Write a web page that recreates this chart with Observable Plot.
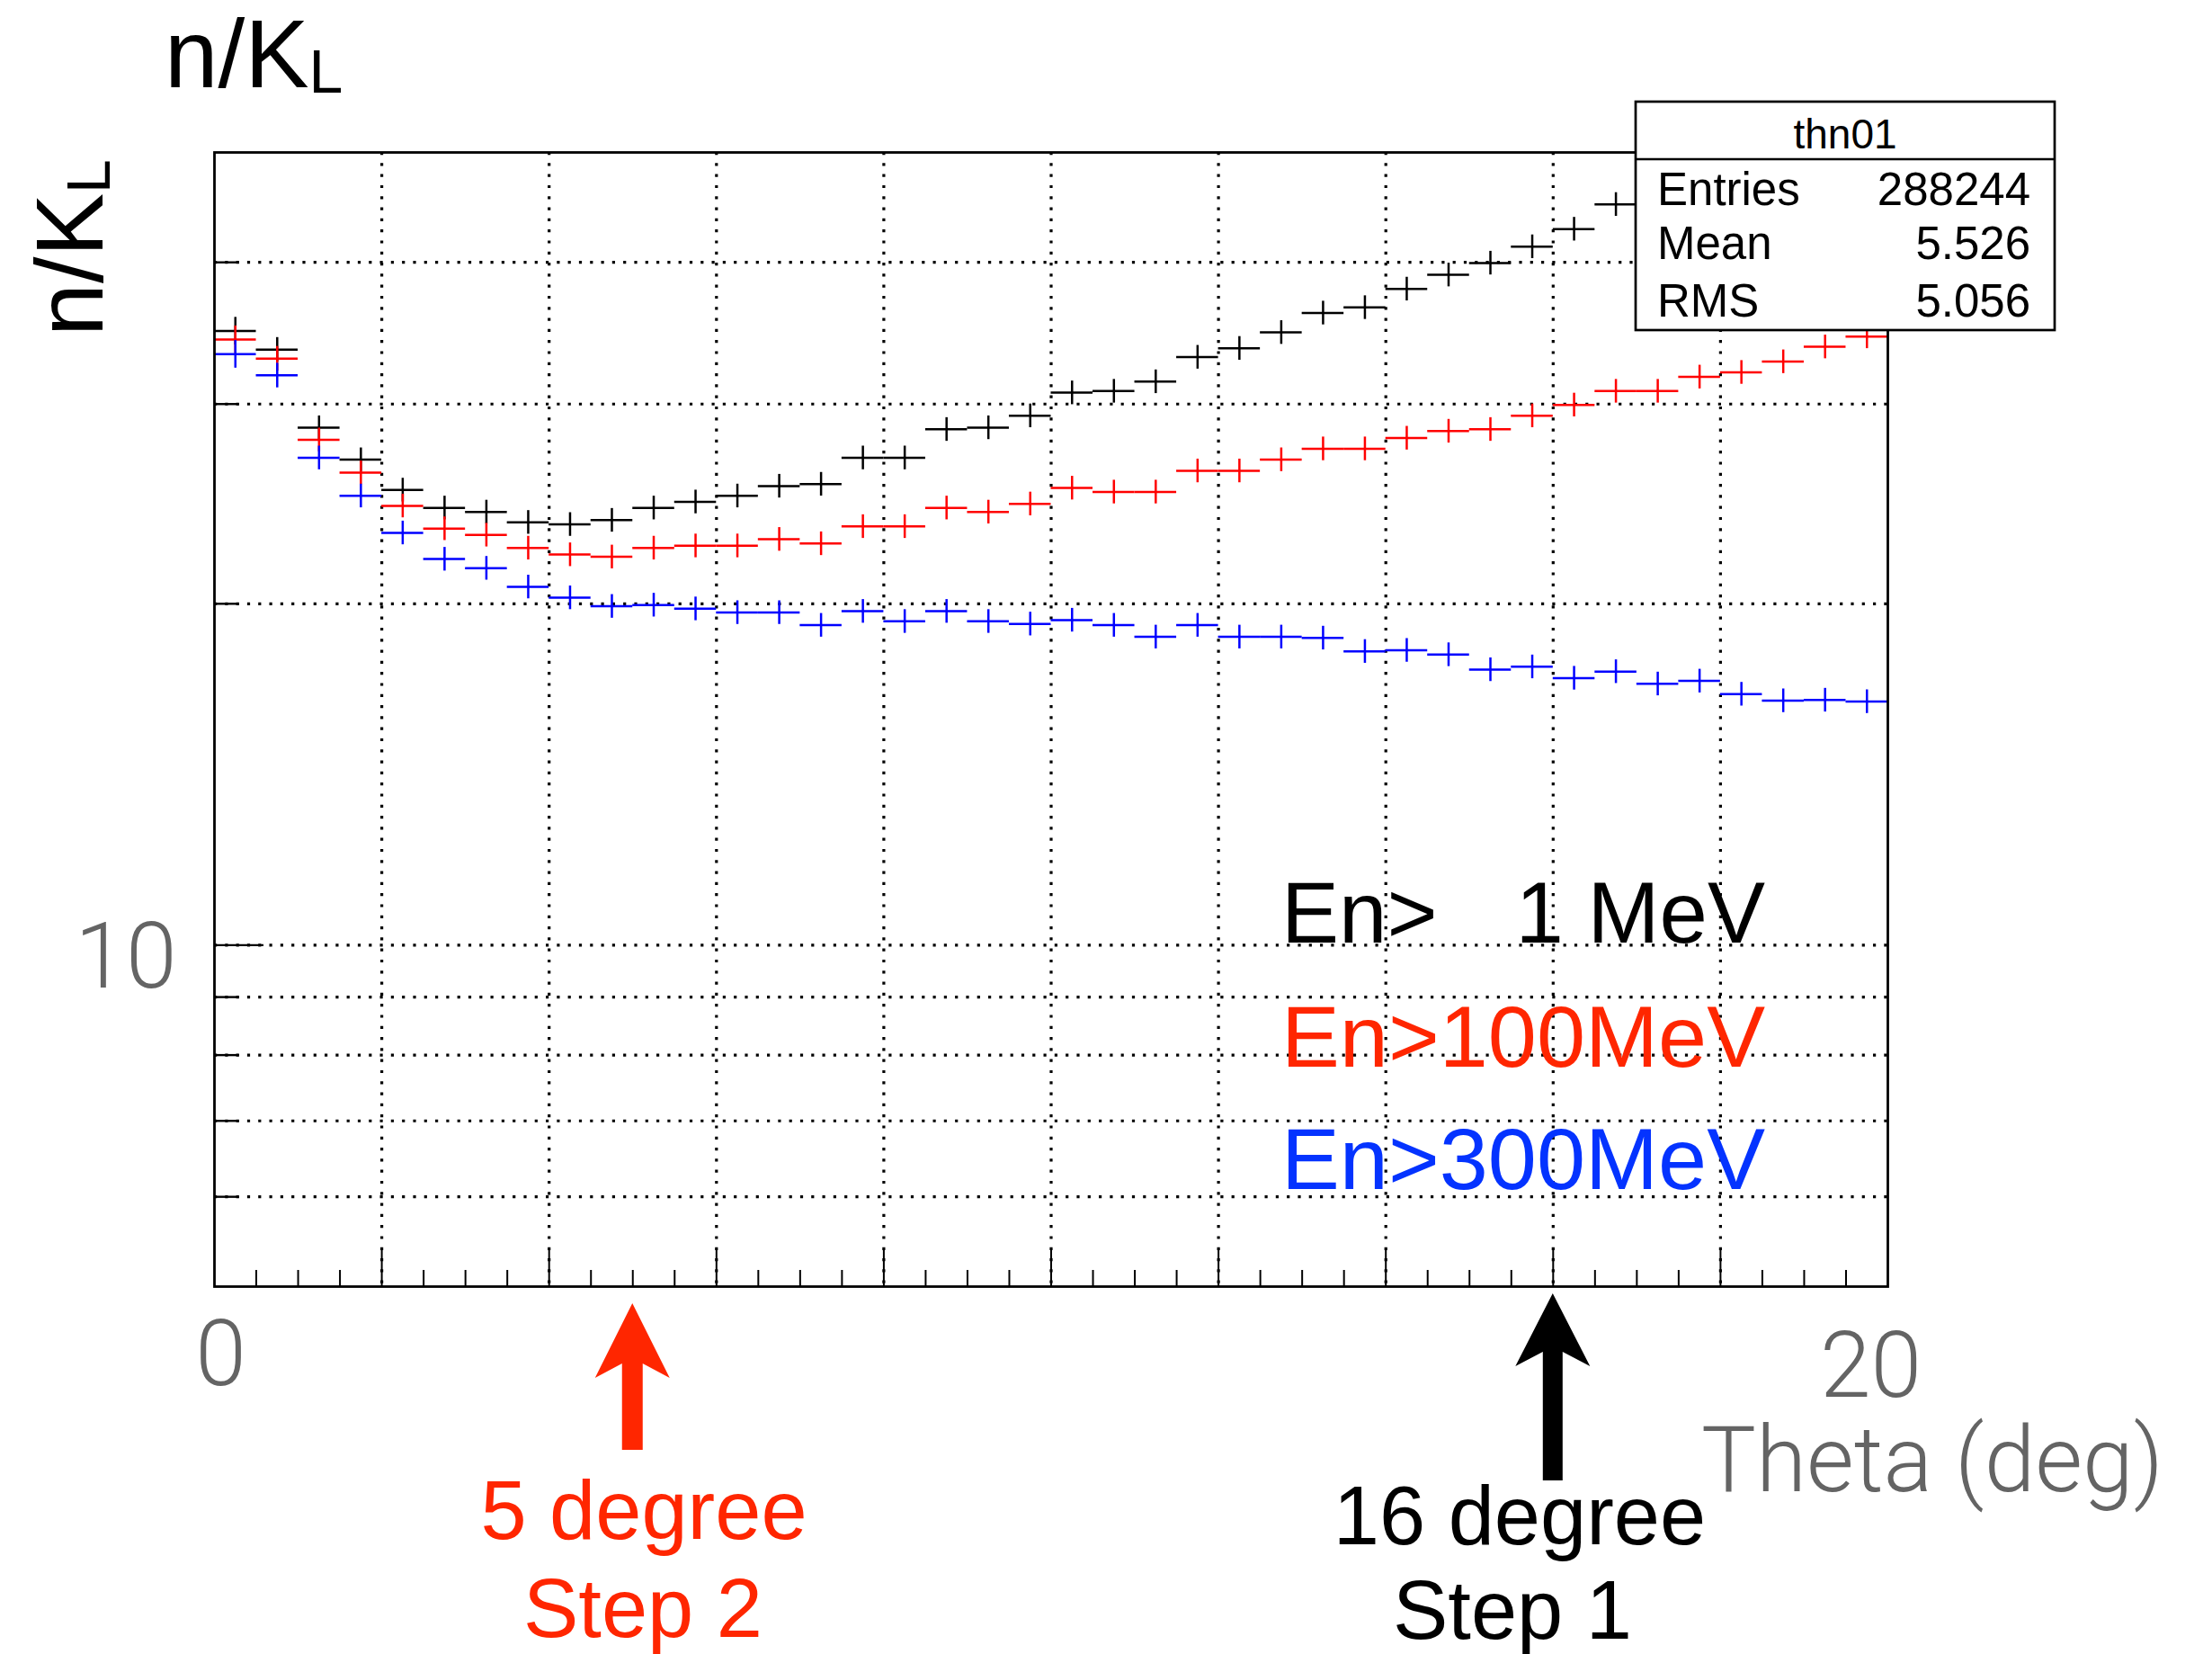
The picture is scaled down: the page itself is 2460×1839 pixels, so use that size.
<!DOCTYPE html>
<html>
<head>
<meta charset="utf-8">
<script src="https://cdn.jsdelivr.net/npm/d3@7"></script>
<script src="https://cdn.jsdelivr.net/npm/@observablehq/plot@0.6"></script>
<style>
html, body { margin: 0; padding: 0; background: #fff; overflow: hidden; }
#chart svg { display: block; }
</style>
</head>
<body>
<div id="chart"></div>
<script>
// ---- data (histogram bins of Theta in degrees) ----
const binLow  = [0,0.5,1,1.5,2,2.5,3,3.5,4,4.5,5,5.5,6,6.5,7,7.5,8,8.5,9,9.5,10,10.5,11,11.5,12,12.5,13,13.5,14,14.5,15,15.5,16,16.5,17,17.5,18,18.5,19,19.5];
const binHigh = [0.5,1,1.5,2,2.5,3,3.5,4,4.5,5,5.5,6,6.5,7,7.5,8,8.5,9,9.5,10,10.5,11,11.5,12,12.5,13,13.5,14,14.5,15,15.5,16,16.5,17,17.5,18,18.5,19,19.5,20];

// n/KL, En > 1 MeV (last bins hidden behind the stats box)
const en1MeV = [34.8,33.5,28.6,26.8,25.2,24.3,24.1,23.6,23.5,23.7,24.3,24.6,24.9,25.4,25.5,26.9,26.9,28.5,28.6,29.3,30.7,30.8,31.4,33.0,33.6,34.7,36.1,36.5,37.9,39.0,39.95,41.3,42.8,45.0,null,null,null,null,null,null];
// n/KL, En > 100 MeV
const en100MeV = [34.2,32.9,27.9,26.1,24.4,23.3,23.0,22.4,22.1,22.0,22.4,22.5,22.5,22.8,22.6,23.4,23.4,24.3,24.1,24.5,25.3,25.1,25.1,26.2,26.2,26.8,27.4,27.4,28.0,28.4,28.5,29.3,29.95,30.8,30.8,31.7,32.0,32.7,33.7,34.4];
// n/KL, En > 300 MeV
const en300MeV = [33.2,31.8,26.9,24.9,23.1,21.9,21.5,20.7,20.25,19.9,19.95,19.8,19.65,19.65,19.15,19.7,19.3,19.7,19.3,19.2,19.35,19.15,18.7,19.15,18.7,18.7,18.66,18.16,18.2,18.04,17.5,17.6,17.2,17.43,17.0,17.1,16.65,16.43,16.45,16.4];
// relative error per bin
const relErr = [0.028,0.025,0.024,0.024,0.024,0.024,0.024,0.024,0.024,0.024,0.024,0.024,0.024,0.024,0.024,0.024,0.024,0.024,0.024,0.024,0.024,0.024,0.024,0.024,0.024,0.024,0.024,0.024,0.024,0.024,0.024,0.024,0.024,0.024,0.024,0.024,0.024,0.024,0.024,0.024];

const seriesNames  = ["En>   1 MeV", "En>100MeV", "En>300MeV"];
const seriesColors = ["#000000", "#ff0000", "#0000ff"];
const legendColors = ["#000000", "#ff2600", "#0433ff"];

// axes
const xDomain = [0, 20];
const yDomain = [5, 50];
const xGrid = [2,4,6,8,10,12,14,16,18];
const yGrid = [6,7,8,9,10,20,30,40];
const xMajorTicks = [2,4,6,8,10,12,14,16,18];
const xMinorTicks = [0.5,1,1.5,2.5,3,3.5,4.5,5,5.5,6.5,7,7.5,8.5,9,9.5,10.5,11,11.5,12.5,13,13.5,14.5,15,15.5,16.5,17,17.5,18.5,19,19.5];
const yMajorTicks = [10];
const yMinorTicks = [6,7,8,9,20,30,40];
const xTickLabels = [{v: 0, t: "0"}, {v: 20, t: "20"}];
const yTickLabels = [{v: 10, t: "10"}];

// stats box
const statsTitle = "thn01";
const statsRows = [["Entries", "288244"], ["Mean", "5.526"], ["RMS", "5.056"]];

// annotations
const arrows = [
  {x: 5,  color: "#ff2600", lines: ["5 degree", "Step 2"]},
  {x: 16, color: "#000000", lines: ["16 degree", "Step 1"]}
];

// ---- build ----
const W = 2460, H = 1839;
const mL = 238, mR = 361, mT = 169, mB = 409;
const frameW = W - mL - mR, frameH = H - mT - mB;
const FONT = "'Liberation Sans', Arial, Helvetica, sans-serif";
const LIGHT = "Roboto, 'Liberation Sans', Arial, sans-serif";
const GRAY = "#646464";

function rows(values) {
  return binLow.map((lo, i) => ({
    lo, hi: binHigh[i], c: (lo + binHigh[i]) / 2, v: values[i],
    e1: values[i] == null ? null : values[i] * (1 - relErr[i]),
    e2: values[i] == null ? null : values[i] * (1 + relErr[i])
  })).filter(d => d.v != null);
}
const allSeries = [en1MeV, en100MeV, en300MeV];

const dataMarks = [];
allSeries.forEach((s, k) => {
  const r = rows(s);
  dataMarks.push(Plot.ruleY(r, {x1: "lo", x2: "hi", y: "v", stroke: seriesColors[k], strokeWidth: 2.5}));
  dataMarks.push(Plot.ruleX(r, {x: "c", y1: "e1", y2: "e2", stroke: seriesColors[k], strokeWidth: 2.5}));
});

const dotted = {stroke: "#000", strokeWidth: 3.2, strokeDasharray: "3.2,9.1"};

const plot = Plot.plot({
  width: W, height: H,
  marginLeft: mL, marginRight: mR, marginTop: mT, marginBottom: mB,
  style: {background: "#fff", overflow: "visible"},
  x: {domain: xDomain, axis: null},
  y: {type: "log", domain: yDomain, axis: null},
  marks: [
    Plot.ruleX(xGrid, {x: d => d, ...dotted}),
    Plot.ruleY(yGrid, {y: d => d, ...dotted}),
    Plot.tickX(xMinorTicks, {x: d => d, insetTop: frameH - 18, stroke: "#000", strokeWidth: 2}),
    Plot.tickX(xMajorTicks, {x: d => d, insetTop: frameH - 43, stroke: "#000", strokeWidth: 2}),
    Plot.tickY(yMinorTicks, {y: d => d, insetRight: frameW - 28, stroke: "#000", strokeWidth: 2.4}),
    Plot.tickY(yMajorTicks, {y: d => d, insetRight: frameW - 55, stroke: "#000", strokeWidth: 2.4}),
    ...dataMarks,
    Plot.frame({stroke: "#000", strokeWidth: 2.8}),
    Plot.text(xTickLabels, {x: "v", text: "t", frameAnchor: "bottom", lineAnchor: "bottom",
      dy: 0, fontSize: 102, fill: GRAY, fontFamily: LIGHT, fontWeight: 300,
      textAnchor: "middle"}),
    Plot.text(yTickLabels, {y: "v", text: "t", frameAnchor: "left", lineAnchor: "bottom",
      dx: -42, dy: 47, fontSize: 102, fill: GRAY, fontFamily: LIGHT, fontWeight: 300,
      textAnchor: "end"})
  ]
});

document.getElementById("chart").appendChild(plot);

const svg = d3.select(plot);
const xs = plot.scale("x");

// reposition x tick labels (0 slightly right, 20 slightly left and lower as in the reference)
svg.selectAll("g[aria-label='text'] text").each(function() {
  const t = d3.select(this).text();
  if (t === "0") d3.select(this).attr("transform", `translate(${xs.apply(0) + 7},${H - mB + 109})`);
  if (t === "20") d3.select(this).attr("transform", `translate(${xs.apply(20) - 19},${H - mB + 122})`);
});

const g = svg.append("g").attr("font-family", FONT).attr("text-anchor", "start").attr("font-size", 50);

// title n/KL (top)
const title = g.append("text").attr("x", 183).attr("y", 97).attr("font-size", 107).attr("fill", "#000");
title.append("tspan").text("n/K");
title.append("tspan").attr("font-size", 68).attr("dy", 6).text("L");

// y axis title (rotated)
const yt = g.append("text").attr("transform", "translate(114,374) rotate(-90)")
  .attr("font-size", 106).attr("fill", "#000");
yt.append("tspan").text("n/K");
yt.append("tspan").attr("font-size", 68).attr("dy", 8).text("L");

// x axis title
g.append("text").attr("x", 2406).attr("y", 1658).attr("text-anchor", "end")
  .attr("font-size", 102).attr("fill", GRAY).attr("font-family", LIGHT).attr("font-weight", 300)
  .text("Theta (deg)");

// legend
const legY = [1048, 1186, 1322];
g.append("text").attr("x", 1425).attr("y", legY[0]).attr("font-size", 96).attr("fill", legendColors[0]).text("En>");
g.append("text").attr("x", 1963).attr("y", legY[0]).attr("text-anchor", "end").attr("font-size", 96).attr("fill", legendColors[0]).text("1 MeV");
[1, 2].forEach(k => {
  g.append("text").attr("x", 1425).attr("y", legY[k]).attr("font-size", 96)
    .attr("fill", legendColors[k]).attr("textLength", 538).attr("lengthAdjust", "spacingAndGlyphs")
    .text(seriesNames[k]);
});

// stats box
const sb = g.append("g");
sb.append("rect").attr("x", 1819).attr("y", 113).attr("width", 466).attr("height", 254)
  .attr("fill", "#fff").attr("stroke", "#000").attr("stroke-width", 2.7);
sb.append("line").attr("x1", 1819).attr("x2", 2285).attr("y1", 177).attr("y2", 177)
  .attr("stroke", "#000").attr("stroke-width", 2.7);
sb.append("text").attr("x", 2052).attr("y", 165).attr("text-anchor", "middle").attr("font-size", 46).text(statsTitle);
const rowY = [228, 288, 352];
statsRows.forEach((r, i) => {
  sb.append("text").attr("x", 1843).attr("y", rowY[i]).attr("font-size", 51).text(r[0]);
  sb.append("text").attr("x", 2258).attr("y", rowY[i]).attr("text-anchor", "end").attr("font-size", 51).text(r[1]);
});

// arrows + labels
const arrowGeom = [
  {tip: 1449, base: 1532, join: 1516, bottom: 1612, half: 41.5, shaft: 11.5, text: [1711, 1820], tx: [716, 715]},
  {tip: 1438, base: 1519, join: 1503, bottom: 1646, half: 41.5, shaft: 11, text: [1717, 1822], tx: [1690, 1682]}
];
arrows.forEach((a, i) => {
  const q = arrowGeom[i];
  const cx = xs.apply(a.x);
  const pts = [
    [cx, q.tip], [cx + q.half, q.base], [cx + q.shaft, q.join], [cx + q.shaft, q.bottom],
    [cx - q.shaft, q.bottom], [cx - q.shaft, q.join], [cx - q.half, q.base]
  ];
  g.append("path").attr("d", "M" + pts.map(p => p.join(",")).join("L") + "Z").attr("fill", a.color);
  a.lines.forEach((ln, j) => {
    g.append("text").attr("x", q.tx[j]).attr("y", q.text[j]).attr("text-anchor", "middle")
      .attr("font-size", 92).attr("fill", a.color).text(ln);
  });
});
</script>
</body>
</html>
